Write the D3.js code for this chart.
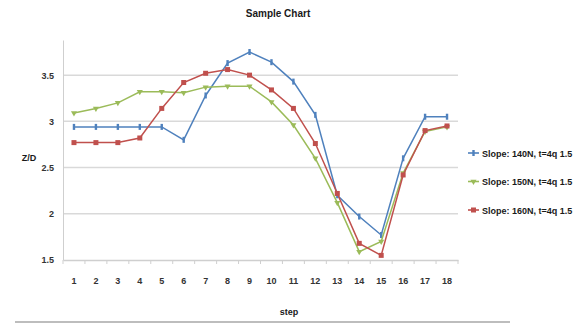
<!DOCTYPE html>
<html>
<head>
<meta charset="utf-8">
<script src="https://cdn.jsdelivr.net/npm/d3@7/dist/d3.min.js"></script>
<style>
  html, body { margin: 0; padding: 0; background: #fff; }
  svg text { font-family: "Liberation Sans", Arial, sans-serif; fill: #1a1a1a; }
</style>
</head>
<body>
<svg id="chart" width="585" height="324"></svg>
<script>
// Category positions along the x axis
const steps = [1, 2, 3, 4, 5, 6, 7, 8, 9, 10, 11, 12, 13, 14, 15, 16, 17, 18];

// Series names and values
const seriesNames = ["Slope: 140N, t=4q 1.5", "Slope: 150N, t=4q 1.5", "Slope: 160N, t=4q 1.5"];
const blueValues  = [2.94, 2.94, 2.94, 2.94, 2.94, 2.80, 3.28, 3.63, 3.75, 3.64, 3.43, 3.07, 2.20, 1.97, 1.77, 2.60, 3.05, 3.05];
const greenValues = [3.09, 3.14, 3.20, 3.32, 3.32, 3.31, 3.37, 3.38, 3.38, 3.21, 2.96, 2.60, 2.12, 1.59, 1.70, 2.44, 2.89, 2.94];
const redValues   = [2.77, 2.77, 2.77, 2.82, 3.14, 3.42, 3.52, 3.56, 3.50, 3.34, 3.14, 2.76, 2.22, 1.68, 1.55, 2.42, 2.90, 2.95];

const yTicks = [1.5, 2, 2.5, 3, 3.5];
const colors = ["#4F81BD", "#9BBB59", "#C0504D"];
const markers = ["dash", "triangle", "square"];

const svg = d3.select("#chart");

const plot = { left: 63, right: 458, top: 40, bottom: 260 };

const x = d3.scaleBand().domain(steps).range([plot.left, plot.right]).paddingInner(0).paddingOuter(0);
const y = d3.scaleLinear().domain([1.5, 3.88]).range([plot.bottom, plot.top]);
const cx = d => x(d) + x.bandwidth() / 2;

// Horizontal gridlines
svg.append("g").selectAll("line").data(yTicks.slice(1)).join("line")
  .attr("x1", plot.left).attr("x2", plot.right)
  .attr("y1", d => y(d)).attr("y2", d => y(d))
  .attr("stroke", "#d9d9d9").attr("stroke-width", 1.5);

// Y axis
const yAxis = svg.append("g").attr("transform", `translate(${plot.left},0)`)
  .call(d3.axisLeft(y).tickValues(yTicks).tickSize(0).tickPadding(9).tickFormat(d3.format("")));
yAxis.select(".domain").attr("stroke", "#cfcfcf").attr("stroke-width", 1);
yAxis.selectAll("text").attr("font-size", 9).attr("font-weight", "bold").style("fill", "#333");

// X axis with ticks between categories
const xAxisG = svg.append("g").attr("transform", `translate(0,${plot.bottom})`)
  .call(d3.axisBottom(x).tickSize(0).tickPadding(18));
xAxisG.select(".domain").attr("stroke", "#cfcfcf").attr("stroke-width", 1.5);
xAxisG.selectAll("text").attr("font-size", 9).attr("font-weight", "bold").style("fill", "#333");
xAxisG.append("g").selectAll("line").data(steps.concat([null])).join("line")
  .attr("x1", (d, i) => plot.left + i * x.bandwidth())
  .attr("x2", (d, i) => plot.left + i * x.bandwidth())
  .attr("y1", 0).attr("y2", 4)
  .attr("stroke", "#cfcfcf");

// Titles
svg.append("text").attr("x", 278).attr("y", 17).attr("text-anchor", "middle")
  .attr("font-size", 10).attr("font-weight", "bold").text("Sample Chart");
svg.append("text").attr("x", 289).attr("y", 315).attr("text-anchor", "middle")
  .attr("font-size", 9).attr("font-weight", "bold").text("step");
svg.append("text").attr("x", 29).attr("y", 161).attr("text-anchor", "middle")
  .attr("font-size", 9).attr("font-weight", "bold").text("Z/D");

// Bottom frame line
svg.append("line").attr("x1", 15).attr("x2", 510).attr("y1", 322).attr("y2", 322)
  .attr("stroke", "#bdbdbd").attr("stroke-width", 2);

const allSeries = [blueValues, greenValues, redValues];
const line = d3.line().x((d, i) => cx(steps[i])).y(d => y(d));

function drawMarker(g, kind, color, px, py) {
  if (kind === "dash") {
    g.append("rect").attr("x", px - 1.2).attr("y", py - 3).attr("width", 2.4).attr("height", 6).attr("fill", color);
  } else if (kind === "triangle") {
    g.append("path").attr("d", d3.symbol(d3.symbolTriangle, 16)()).attr("transform", `translate(${px},${py}) rotate(180)`).attr("fill", color);
  } else {
    g.append("rect").attr("x", px - 2.5).attr("y", py - 2.5).attr("width", 5).attr("height", 5).attr("fill", color);
  }
}

allSeries.forEach((vals, s) => {
  const g = svg.append("g");
  g.append("path").datum(vals).attr("d", line)
    .attr("fill", "none").attr("stroke", colors[s]).attr("stroke-width", 1.5);
  vals.forEach((v, i) => drawMarker(g, markers[s], colors[s], cx(steps[i]), y(v)));
});

// Legend
const legend = svg.append("g");
seriesNames.forEach((name, i) => {
  const ly = 153 + i * 28.5;
  legend.append("line").attr("x1", 468).attr("x2", 479).attr("y1", ly).attr("y2", ly)
    .attr("stroke", colors[i]).attr("stroke-width", 1.6);
  drawMarker(legend, markers[i], colors[i], 473.5, ly);
  legend.append("text").attr("x", 482).attr("y", ly + 3.5)
    .attr("font-size", 9).attr("font-weight", "bold").text(name);
});
</script>
</body>
</html>
